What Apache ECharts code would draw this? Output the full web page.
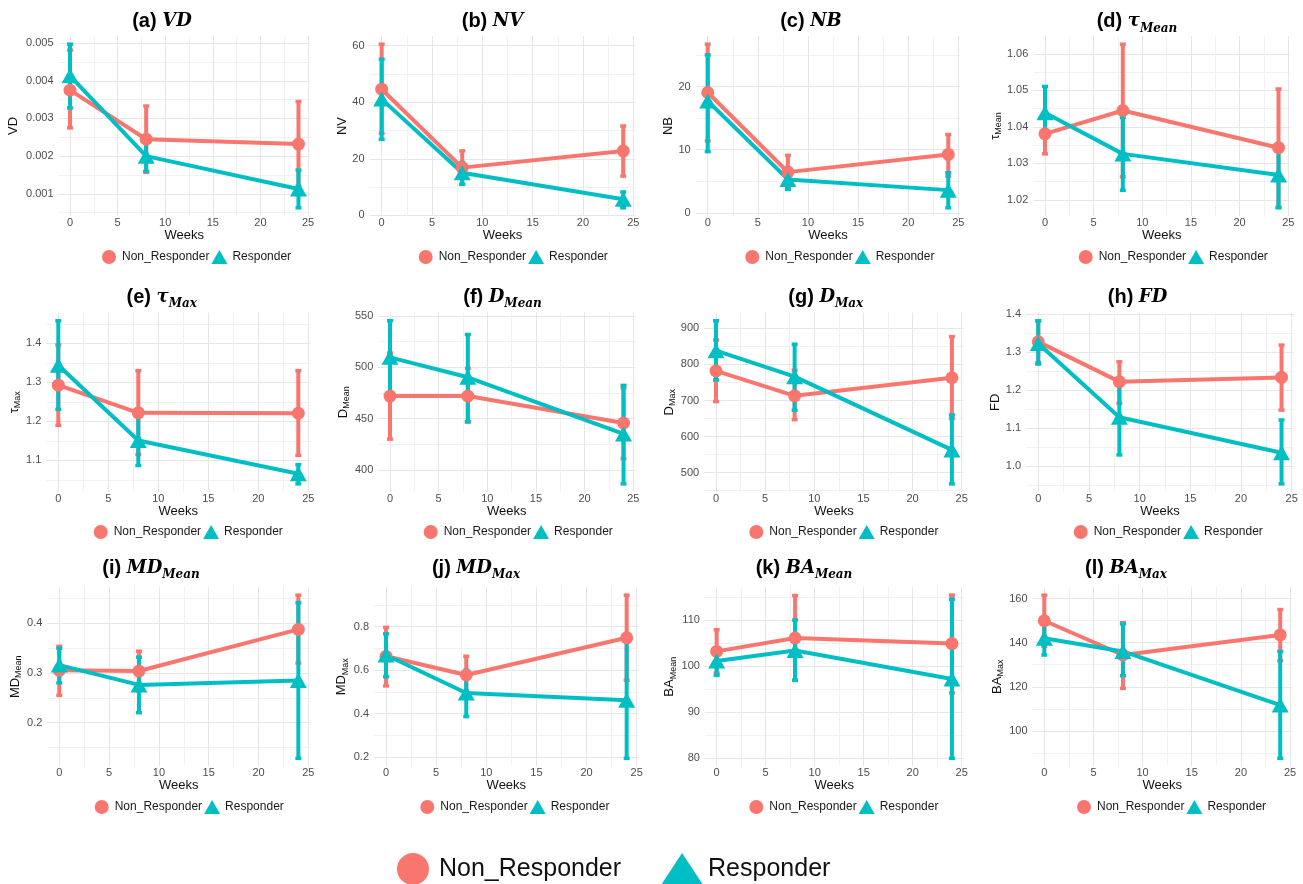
<!DOCTYPE html>
<html><head><meta charset="utf-8">
<script src="https://cdn.jsdelivr.net/npm/echarts@6/dist/echarts.min.js"></script>
<style>html,body{margin:0;padding:0;background:#fff}#c{width:1303px;height:884px}</style>
</head><body><div id="c"></div>
<script>
// ---------- DATA ----------
const weeks = [0, 8, 24];
const groups = ['Non_Responder', 'Responder'];
const xTicks = [0, 5, 10, 15, 20, 25];
const xTickLabels = ['0', '5', '10', '15', '20', '25'];
const xMinorTicks = [2.5, 7.5, 12.5, 17.5, 22.5];

// (a) VD
const vdNonMean = [0.00375, 0.00245, 0.00232];
const vdNonLow  = [0.00275, 0.00157, 0.00120];
const vdNonHigh = [0.00481, 0.00333, 0.00345];
const vdResMean = [0.00413, 0.00200, 0.00113];
const vdResLow  = [0.00328, 0.00160, 0.00063];
const vdResHigh = [0.00497, 0.00239, 0.00163];
const vdTicks = [0.001, 0.002, 0.003, 0.004, 0.005];
const vdTickLabels = ['0.001', '0.002', '0.003', '0.004', '0.005'];

// (b) NV
const nvNonMean = [44.6, 16.9, 22.8];
const nvNonLow  = [29.0, 11.0, 13.9];
const nvNonHigh = [60.5, 22.8, 31.6];
const nvResMean = [41.1, 15.1, 5.7];
const nvResLow  = [26.9, 11.0, 2.7];
const nvResHigh = [55.2, 18.7, 8.3];
const nvTicks = [0, 20, 40, 60];
const nvTickLabels = ['0', '20', '40', '60'];

// (c) NB
const nbNonMean = [19.05, 6.45, 9.25];
const nbNonLow  = [11.4, 3.8, 5.8];
const nbNonHigh = [26.7, 9.1, 12.4];
const nbResMean = [17.7, 5.3, 3.6];
const nbResLow  = [9.7, 3.7, 0.8];
const nbResHigh = [25.0, 7.15, 6.35];
const nbTicks = [0, 10, 20];
const nbTickLabels = ['0', '10', '20'];

// (d) tau Mean
const tmNonMean = [1.0381, 1.0445, 1.0343];
const tmNonLow  = [1.0326, 1.0263, 1.0180];
const tmNonHigh = [1.0436, 1.0627, 1.0504];
const tmResMean = [1.0439, 1.0326, 1.0268];
const tmResLow  = [1.0372, 1.0226, 1.0178];
const tmResHigh = [1.0511, 1.0426, 1.0354];
const tmTicks = [1.02, 1.03, 1.04, 1.05, 1.06];
const tmTickLabels = ['1.02', '1.03', '1.04', '1.05', '1.06'];

// (e) tau Max
const txNonMean = [1.293, 1.222, 1.221];
const txNonLow  = [1.190, 1.115, 1.113];
const txNonHigh = [1.396, 1.330, 1.330];
const txResMean = [1.344, 1.151, 1.066];
const txResLow  = [1.231, 1.087, 1.040];
const txResHigh = [1.458, 1.215, 1.089];
const txTicks = [1.1, 1.2, 1.3, 1.4];
const txTickLabels = ['1.1', '1.2', '1.3', '1.4'];

// (f) D Mean
const dmNonMean = [472, 472, 445.7];
const dmNonLow  = [430, 446.7, 411];
const dmNonHigh = [514, 499, 480];
const dmResMean = [509.7, 490.3, 435];
const dmResLow  = [474, 447, 386.4];
const dmResHigh = [545.4, 532, 482.4];
const dmTicks = [400, 450, 500, 550];
const dmTickLabels = ['400', '450', '500', '550'];

// (g) D Max
const dxNonMean = [782, 713, 763];
const dxNonLow  = [697, 647, 650];
const dxNonHigh = [868, 784, 877];
const dxResMean = [838, 766, 563];
const dxResLow  = [757, 673, 469];
const dxResHigh = [921, 856, 660];
const dxTicks = [500, 600, 700, 800, 900];
const dxTickLabels = ['500', '600', '700', '800', '900'];

// (h) FD
const fdNonMean = [1.3265, 1.2218, 1.233];
const fdNonLow  = [1.272, 1.165, 1.147];
const fdNonHigh = [1.381, 1.274, 1.318];
const fdResMean = [1.322, 1.128, 1.035];
const fdResLow  = [1.268, 1.029, 0.953];
const fdResHigh = [1.382, 1.211, 1.121];
const fdTicks = [1.0, 1.1, 1.2, 1.3, 1.4];
const fdTickLabels = ['1.0', '1.1', '1.2', '1.3', '1.4'];

// (i) MD Mean
const mmNonMean = [0.3054, 0.304, 0.388];
const mmNonLow  = [0.255, 0.264, 0.32];
const mmNonHigh = [0.354, 0.344, 0.457];
const mmResMean = [0.316, 0.276, 0.285];
const mmResLow  = [0.28, 0.22, 0.128];
const mmResHigh = [0.35, 0.332, 0.442];
const mmTicks = [0.2, 0.3, 0.4];
const mmTickLabels = ['0.2', '0.3', '0.4'];

// (j) MD Max
const mxNonMean = [0.664, 0.578, 0.749];
const mxNonLow  = [0.528, 0.49, 0.554];
const mxNonHigh = [0.797, 0.664, 0.945];
const mxResMean = [0.67, 0.4955, 0.462];
const mxResLow  = [0.57, 0.387, 0.195];
const mxResHigh = [0.767, 0.6, 0.735];
const mxTicks = [0.2, 0.4, 0.6, 0.8];
const mxTickLabels = ['0.2', '0.4', '0.6', '0.8'];

// (k) BA Mean
const bmNonMean = [103.2, 106.1, 104.9];
const bmNonLow  = [98.5, 97.0, 94.2];
const bmNonHigh = [107.9, 115.3, 115.4];
const bmResMean = [101.1, 103.4, 97.2];
const bmResLow  = [98.0, 96.9, 80.0];
const bmResHigh = [103.8, 110.0, 114.5];
const bmTicks = [80, 90, 100, 110];
const bmTickLabels = ['80', '90', '100', '110'];

// (l) BA Max
const bxNonMean = [149.9, 134.4, 143.5];
const bxNonLow  = [138.3, 119.3, 131.8];
const bxNonHigh = [161.5, 149.0, 155.0];
const bxResMean = [142.0, 136.0, 111.7];
const bxResLow  = [134.4, 125.0, 87.6];
const bxResHigh = [148.8, 148.5, 136.0];
const bxTicks = [100, 120, 140, 160];
const bxTickLabels = ['100', '120', '140', '160'];

// ---------- PANELS ----------
const panels = [
  {title: '{p|(a) }{m|VD}', yName: '{n|VD}', non: [vdNonMean, vdNonLow, vdNonHigh], res: [vdResMean, vdResLow, vdResHigh], ticks: vdTicks, labels: vdTickLabels},
  {title: '{p|(b) }{m|NV}', yName: '{n|NV}', non: [nvNonMean, nvNonLow, nvNonHigh], res: [nvResMean, nvResLow, nvResHigh], ticks: nvTicks, labels: nvTickLabels},
  {title: '{p|(c) }{m|NB}', yName: '{n|NB}', non: [nbNonMean, nbNonLow, nbNonHigh], res: [nbResMean, nbResLow, nbResHigh], ticks: nbTicks, labels: nbTickLabels},
  {title: '{p|(d) }{m|τ}{s|Mean}', yName: '{n|τ}{s|Mean}', non: [tmNonMean, tmNonLow, tmNonHigh], res: [tmResMean, tmResLow, tmResHigh], ticks: tmTicks, labels: tmTickLabels},
  {title: '{p|(e) }{m|τ}{s|Max}', yName: '{n|τ}{s|Max}', non: [txNonMean, txNonLow, txNonHigh], res: [txResMean, txResLow, txResHigh], ticks: txTicks, labels: txTickLabels},
  {title: '{p|(f) }{m|D}{s|Mean}', yName: '{n|D}{s|Mean}', non: [dmNonMean, dmNonLow, dmNonHigh], res: [dmResMean, dmResLow, dmResHigh], ticks: dmTicks, labels: dmTickLabels},
  {title: '{p|(g) }{m|D}{s|Max}', yName: '{n|D}{s|Max}', non: [dxNonMean, dxNonLow, dxNonHigh], res: [dxResMean, dxResLow, dxResHigh], ticks: dxTicks, labels: dxTickLabels},
  {title: '{p|(h) }{m|FD}', yName: '{n|FD}', non: [fdNonMean, fdNonLow, fdNonHigh], res: [fdResMean, fdResLow, fdResHigh], ticks: fdTicks, labels: fdTickLabels},
  {title: '{p|(i) }{m|MD}{s|Mean}', yName: '{n|MD}{s|Mean}', non: [mmNonMean, mmNonLow, mmNonHigh], res: [mmResMean, mmResLow, mmResHigh], ticks: mmTicks, labels: mmTickLabels},
  {title: '{p|(j) }{m|MD}{s|Max}', yName: '{n|MD}{s|Max}', non: [mxNonMean, mxNonLow, mxNonHigh], res: [mxResMean, mxResLow, mxResHigh], ticks: mxTicks, labels: mxTickLabels},
  {title: '{p|(k) }{m|BA}{s|Mean}', yName: '{n|BA}{s|Mean}', non: [bmNonMean, bmNonLow, bmNonHigh], res: [bmResMean, bmResLow, bmResHigh], ticks: bmTicks, labels: bmTickLabels},
  {title: '{p|(l) }{m|BA}{s|Max}', yName: '{n|BA}{s|Max}', non: [bxNonMean, bxNonLow, bxNonHigh], res: [bxResMean, bxResLow, bxResHigh], ticks: bxTicks, labels: bxTickLabels}
];

// ---------- LAYOUT ----------
const layout = [
  {g: [58.6, 36, 251.3, 180],   tx: 162,   gap: 37, leg: 102},
  {g: [369.6, 36, 265.7, 180],  tx: 492.5, gap: 19, leg: 418.7},
  {g: [695.7, 36, 264.6, 180],  tx: 811,   gap: 19, leg: 745.3},
  {g: [1033.3, 36, 256.9, 180], tx: 1137,  gap: 28, leg: 1078.7},
  {g: [46.3, 312.6, 264, 179.4],   tx: 161.7, gap: 24, leg: 93.7},
  {g: [378.3, 312.6, 256.9, 179.4], tx: 502.5, gap: 25, leg: 423.7},
  {g: [704.2, 312.6, 259.5, 179.4], tx: 825.8, gap: 26, leg: 749.3},
  {g: [1026.1, 312.6, 267.6, 179.4], tx: 1137.5, gap: 21, leg: 1073.7},
  {g: [47.3, 587, 263, 179.5],   tx: 151,  gap: 20, leg: 94.7},
  {g: [374, 587, 264.7, 179.5],  tx: 476,  gap: 22, leg: 420.3},
  {g: [704.9, 587, 258.8, 179.5], tx: 804, gap: 26, leg: 749.3},
  {g: [1032.5, 587, 259.5, 179.5], tx: 1126, gap: 27, leg: 1077}
];
const rowTitleTop = [8.5, 284, 555];
const rowLegendTop = [250, 525, 800];

const COLORS = {Non_Responder: '#F8766D', Responder: '#00BFC4'};
const SANS = 'Liberation Sans';
const SERIF = 'DejaVu Serif';

function yRange(p) {
  const lo = Math.min(...p.non[1], ...p.res[1]);
  const hi = Math.max(...p.non[2], ...p.res[2]);
  const pad = (hi - lo) * 0.05;
  return [lo - pad, hi + pad];
}
function minorTicks(ticks, lo, hi) {
  const step = ticks[1] - ticks[0];
  const out = [];
  for (let v = ticks[0] - step / 2; v <= hi; v += step) if (v >= lo) out.push(+v.toFixed(10));
  return out;
}
function fmt(vals, labs) {
  return v => {
    const k = vals.findIndex(t => Math.abs(t - v) <= 1e-9 * Math.max(1, Math.abs(t)));
    return k >= 0 ? labs[k] : '';
  };
}
function renderErrorBar(params, api) {
  const x = api.value(0), lo = api.value(1), hi = api.value(2);
  const pLo = api.coord([x, lo]);
  const pHi = api.coord([x, hi]);
  const color = api.visual('color');
  const cap = 3;
  return {
    type: 'group',
    children: [
      {type: 'line', shape: {x1: pLo[0], y1: pLo[1], x2: pHi[0], y2: pHi[1]}, style: {stroke: color, lineWidth: 4}},
      {type: 'line', shape: {x1: pHi[0] - cap, y1: pHi[1], x2: pHi[0] + cap, y2: pHi[1]}, style: {stroke: color, lineWidth: 3.5}},
      {type: 'line', shape: {x1: pLo[0] - cap, y1: pLo[1], x2: pLo[0] + cap, y2: pLo[1]}, style: {stroke: color, lineWidth: 3.5}}
    ]
  };
}

const titleRich = {
  p: {fontFamily: SANS, fontWeight: 'bold', fontSize: 20, lineHeight: 26, color: '#000'},
  m: {fontFamily: SERIF, fontStyle: 'italic', fontWeight: 'bold', fontSize: 18, lineHeight: 26, color: '#000'},
  s: {fontFamily: SERIF, fontStyle: 'italic', fontWeight: 'bold', fontSize: 12, lineHeight: 14, verticalAlign: 'bottom', color: '#000'}
};
const nameRich = {
  n: {fontFamily: SANS, fontSize: 13, lineHeight: 16, color: '#111'},
  s: {fontFamily: SANS, fontSize: 9, lineHeight: 10, verticalAlign: 'bottom', color: '#111'}
};
const labelStyle = {fontFamily: SANS, fontSize: 11, color: '#4d4d4d'};
const majorLine = {show: true, lineStyle: {color: '#e6e6e6', width: 1}};
const minorLine = {show: true, lineStyle: {color: '#f1f1f1', width: 1}};

const option = {
  animation: false,
  backgroundColor: '#ffffff',
  title: [], grid: [], xAxis: [], yAxis: [], legend: [], series: []
};

panels.forEach((p, i) => {
  const L = layout[i];
  const row = Math.floor(i / 4);
  const [ymin, ymax] = yRange(p);
  option.grid.push({left: L.g[0], top: L.g[1], width: L.g[2], height: L.g[3]});
  option.title.push({
    text: p.title, left: L.tx, top: rowTitleTop[row], textAlign: 'center', padding: 0,
    textStyle: {rich: titleRich}
  });
  // major x
  option.xAxis.push({
    type: 'value', gridIndex: i, min: -1.2, max: 25.2,
    name: 'Weeks', nameLocation: 'middle', nameGap: 12,
    nameTextStyle: {fontFamily: SANS, fontSize: 13, color: '#111'},
    axisLine: {show: false}, axisTick: {show: false, customValues: xTicks},
    axisLabel: Object.assign({customValues: xTicks, formatter: fmt(xTicks, xTickLabels), margin: 1}, labelStyle),
    splitLine: majorLine
  });
  // minor x
  option.xAxis.push({
    type: 'value', gridIndex: i, min: -1.2, max: 25.2, position: 'bottom',
    axisLine: {show: false}, axisTick: {show: false, customValues: xMinorTicks},
    axisLabel: {show: false}, splitLine: minorLine
  });
  // major y
  option.yAxis.push({
    type: 'value', gridIndex: i, min: ymin, max: ymax,
    name: p.yName, nameLocation: 'middle', nameGap: L.gap, nameRotate: 90,
    nameTextStyle: {rich: nameRich},
    axisLine: {show: false}, axisTick: {show: false, customValues: p.ticks},
    axisLabel: Object.assign({customValues: p.ticks, formatter: fmt(p.ticks, p.labels), margin: 5}, labelStyle),
    splitLine: majorLine
  });
  // minor y
  option.yAxis.push({
    type: 'value', gridIndex: i, min: ymin, max: ymax, position: 'left',
    axisLine: {show: false}, axisTick: {show: false, customValues: minorTicks(p.ticks, ymin, ymax)},
    axisLabel: {show: false}, splitLine: minorLine
  });
  const sets = [['Non_Responder', p.non], ['Responder', p.res]];
  sets.forEach(([name, arr]) => {
    option.series.push({
      type: 'custom', name, xAxisIndex: 2 * i, yAxisIndex: 2 * i, z: 2, silent: true,
      itemStyle: {color: COLORS[name]},
      renderItem: renderErrorBar,
      encode: {x: 0, y: [1, 2]},
      data: weeks.map((w, k) => [w, arr[1][k], arr[2][k]])
    });
  });
  sets.forEach(([name, arr]) => {
    option.series.push({
      type: 'line', name, xAxisIndex: 2 * i, yAxisIndex: 2 * i, z: 3, silent: true,
      symbol: 'none', itemStyle: {color: COLORS[name]},
      lineStyle: {color: COLORS[name], width: 4},
      data: weeks.map((w, k) => [w, arr[0][k]])
    });
  });
  sets.forEach(([name, arr]) => {
    option.series.push({
      type: 'scatter', name, xAxisIndex: 2 * i, yAxisIndex: 2 * i, z: 4, silent: true,
      symbol: name === 'Responder' ? 'triangle' : 'circle',
      symbolSize: name === 'Responder' ? [17, 15] : 13,
      itemStyle: {color: COLORS[name], opacity: 1},
      data: weeks.map((w, k) => [w, arr[0][k]])
    });
  });
  option.legend.push({
    left: L.leg, top: rowLegendTop[row], padding: 0, itemGap: 2,
    itemWidth: 16, itemHeight: 14, selectedMode: false,
    textStyle: {fontFamily: SANS, fontSize: 12, color: '#1a1a1a'},
    data: [{name: groups[0], icon: 'circle'}, {name: groups[1], icon: 'triangle'}]
  });
});

// big shared legend at the bottom
option.legend.push({
  left: 397, top: 853, padding: 0, itemGap: 40,
  itemWidth: 42, itemHeight: 32, selectedMode: false,
  textStyle: {fontFamily: SANS, fontSize: 25, color: '#111'},
  data: [{name: groups[0], icon: 'circle'}, {name: groups[1], icon: 'triangle'}]
});

const chart = echarts.init(document.getElementById('c'), null, {renderer: 'canvas'});
chart.setOption(option);
</script>
</body></html>
